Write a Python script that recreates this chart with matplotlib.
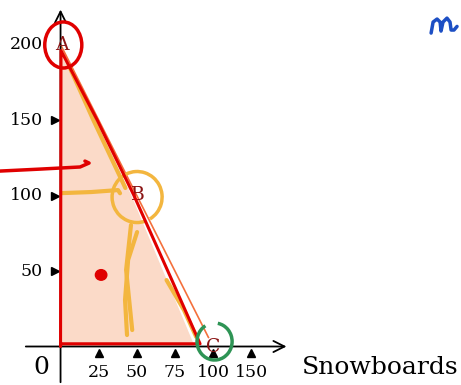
import numpy as np
import matplotlib.pyplot as plt
from matplotlib.patches import Polygon, Ellipse, Arc

# underlying chart: feasible region and corner points
region_x = [0, 0, 46.5, 88]
region_y = [0, 198, 100, 0]
corner_names = ['A', 'B', 'C']
corner_x = [1, 50.8, 100]
corner_y = [199.7, 100.3, -0.3]
boundary_x = [0, 97]
boundary_y = [200, 6]

xtick_pos = [25, 50, 75, 100, 125]
xtick_labels = ['25', '50', '75', '100', '150']
ytick_pos = [50, 100, 150]
ylabel_pos = [50, 100, 150, 200]

# hand-drawn annotations (data units)
red_tri_x = [0, 0, 0.3, 24.0, 48.0, 73.0, 91.5, 0]
red_tri_y = [1.8, 0, 196, 150, 100.3, 44, 1.8, 1.8]
red_hook_x = [-39.7, -13.4, 12.8, 18.7, 16.0]
red_hook_y = [116.2, 117.5, 118.9, 121.5, 122.8]
red_dot = (26.6, 47.4)
yellow_diag1_x = [6.2, 21.5, 42.5]
yellow_diag1_y = [184.4, 150.0, 105.0]
yellow_diag2_x = [69.5, 81.0, 89.0]
yellow_diag2_y = [44.0, 24.0, 6.3]
yellow_horiz_x = [1, 20, 37.7, 39.0]
yellow_horiz_y = [101.6, 102.3, 103.6, 101.5]
yellow_vert1_x = [50.2, 44.3, 42.3, 43.6]
yellow_vert1_y = [75.8, 57.3, 30.8, 7.6]
yellow_vert2_x = [46.2, 43.0, 47.0]
yellow_vert2_y = [80.5, 50.7, 10.9]
blue_m_x = [243.0, 244.3, 246.9, 248.9, 249.5, 250.8, 253.4, 255.4, 256.1, 258.0, 260.0]
blue_m_y = [207.6, 214.9, 216.9, 214.9, 208.9, 214.9, 217.5, 214.9, 209.6, 209.6, 212.0]

RED = '#e00000'
YEL = '#f3b63f'
serif = ['DejaVu Serif']

fig = plt.figure(figsize=(4.61, 3.85), dpi=100)
ax = fig.add_axes([0, 0, 1, 1])
ax.set_xlim(-39.7, 262.6)
ax.set_ylim(-25.5, 229.5)
ax.axis('off')

# region and boundary line
ax.add_patch(Polygon(np.column_stack([region_x, region_y]), closed=True,
                     facecolor='#fbdac8', edgecolor='none', zorder=1))
ax.plot(boundary_x, boundary_y, color='#f4703c', lw=1.2, zorder=2)

# axes with arrows
ax.annotate('', xy=(150, 0), xytext=(-24.6, 0),
            arrowprops=dict(arrowstyle='->', lw=1.3, color='black',
                            mutation_scale=20), zorder=3)
ax.annotate('', xy=(0, 225), xytext=(0, -25.5),
            arrowprops=dict(arrowstyle='->', lw=1.3, color='black',
                            mutation_scale=20), zorder=3)

# tick markers and labels
ax.plot(xtick_pos, [-4] * len(xtick_pos), '^', color='black', ms=6, zorder=3)
ax.plot([-3.6] * len(ytick_pos), ytick_pos, '>', color='black', ms=6, zorder=3)
for p, lab in zip(xtick_pos, xtick_labels):
    ax.text(p, -17, lab, ha='center', va='center', fontsize=12.5, family=serif)
for p in ylabel_pos:
    ax.text(-11.5, p, str(p), ha='right', va='center', fontsize=12.5, family=serif)
ax.text(-12.5, -14.2, '0', ha='center', va='center', fontsize=18, family=serif)
ax.text(209.5, -14.2, 'Snowboards', ha='center', va='center', fontsize=18,
        family=serif)

for name, cx, cy in zip(corner_names, corner_x, corner_y):
    ax.text(cx, cy, name, ha='center', va='center', fontsize=13.5,
            color='#8b1414', family=serif, zorder=4)

# annotations
stroke = dict(solid_capstyle='round', solid_joinstyle='round', zorder=5)
ax.plot(yellow_diag1_x, yellow_diag1_y, color=YEL, lw=3, **stroke)
ax.plot(yellow_diag2_x, yellow_diag2_y, color=YEL, lw=3, **stroke)
ax.plot(yellow_horiz_x, yellow_horiz_y, color=YEL, lw=3, **stroke)
ax.plot(yellow_vert1_x, yellow_vert1_y, color=YEL, lw=3, **stroke)
ax.plot(yellow_vert2_x, yellow_vert2_y, color=YEL, lw=3, **stroke)
ax.add_patch(Arc((50.2, 99), 32.8, 33.8, theta1=-60, theta2=290,
                 color=YEL, lw=2.5, zorder=5))

ax.plot(red_tri_x, red_tri_y, color=RED, lw=2.2, **stroke)
ax.plot(red_hook_x, red_hook_y, color=RED, lw=2.5, **stroke)
ax.add_patch(Ellipse(red_dot, 7.5, 7, color=RED, zorder=6))
ax.add_patch(Ellipse((1.8, 199.7), 24.3, 30.5, fill=False, edgecolor=RED,
                     lw=2.5, zorder=6))
ax.add_patch(Arc((101, 3.3), 23, 24.5, theta1=120, theta2=440,
                 color='#2e9455', lw=2.5, zorder=6))
ax.plot(blue_m_x, blue_m_y, color='#1d4fc4', lw=2.5, **stroke)

fig.savefig('out.png', dpi=100)
